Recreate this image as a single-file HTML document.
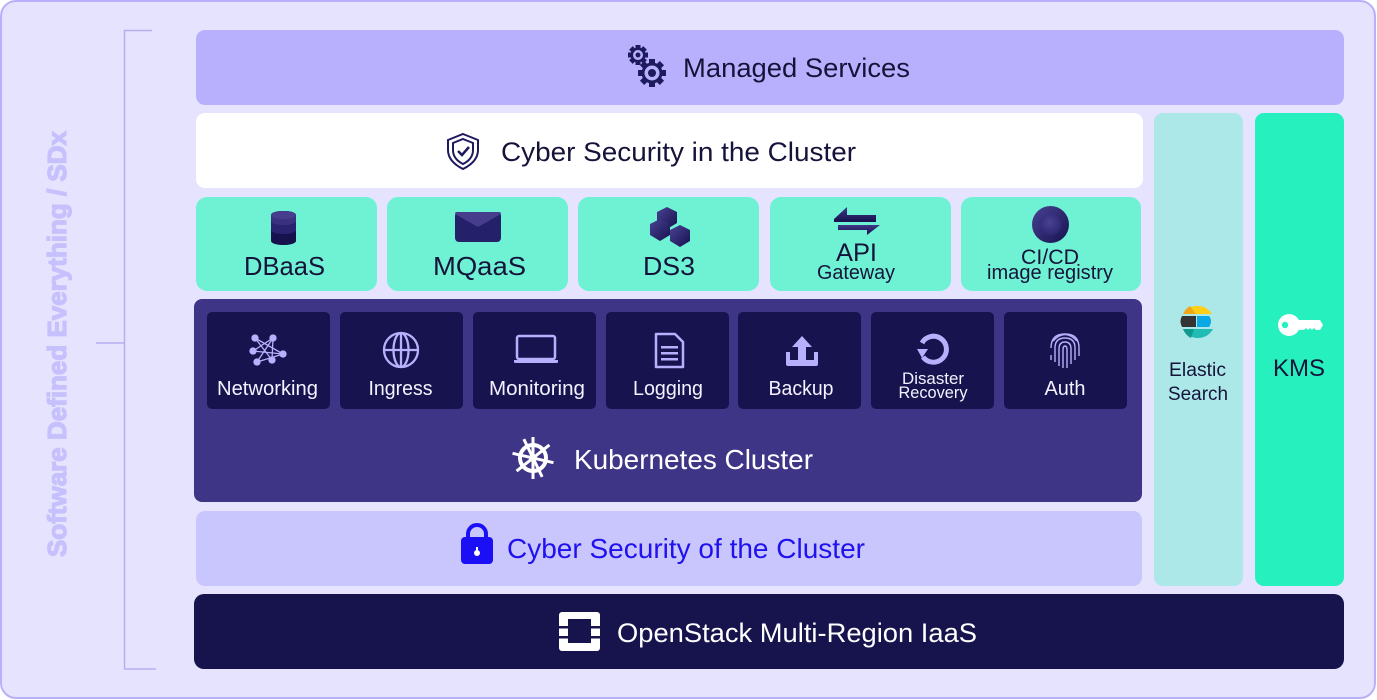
<!DOCTYPE html>
<html><head><meta charset="utf-8"><style>
html,body{margin:0;padding:0;background:#fff;}
svg{display:block;}
text{font-family:"Liberation Sans",sans-serif;}
</style></head><body>
<svg width="1377" height="700" viewBox="0 0 1377 700" xmlns="http://www.w3.org/2000/svg">
<defs>
<linearGradient id="nv" x1="0" y1="0" x2="1" y2="1"><stop offset="0" stop-color="#4a4294"/><stop offset="1" stop-color="#16124f"/></linearGradient>
<linearGradient id="nv2" x1="0" y1="0" x2="0" y2="1"><stop offset="0" stop-color="#3f3788"/><stop offset="1" stop-color="#15124d"/></linearGradient>
<radialGradient id="cin" cx="0.45" cy="0.4" r="0.6"><stop offset="0" stop-color="#4a4294"/><stop offset="1" stop-color="#2c2672"/></radialGradient>
</defs>
<rect x="1" y="1" width="1374" height="697" rx="15" fill="#e6e3fe" stroke="#b8b0fb" stroke-width="2"/>
<!-- bracket -->
<g stroke="#b5aef0" stroke-width="1.5" fill="none">
<polyline points="152,30.5 124.5,30.5 124.5,669 156,669"/>
<line x1="96" y1="343" x2="124.5" y2="343"/>
</g>
<text x="0" y="0" transform="translate(66,344) rotate(-90)" text-anchor="middle" font-size="26" style="font-weight:700" fill="#c6c0fc" stroke="#c6c0fc" stroke-width="1.2" textLength="426" lengthAdjust="spacingAndGlyphs">Software Defined Everything / SDx</text>

<!-- Managed Services -->
<rect x="196" y="30" width="1148" height="75" rx="9" fill="#b8b0fd"/>
<g fill="#1e1a5e">
<g transform="translate(638,55)">
<circle r="7.5"/>
<g><rect x="-2.5" y="-10" width="5" height="20"/><rect x="-2.5" y="-10" width="5" height="20" transform="rotate(45)"/><rect x="-2.5" y="-10" width="5" height="20" transform="rotate(90)"/><rect x="-2.5" y="-10" width="5" height="20" transform="rotate(135)"/></g>
<circle r="5" fill="#b8b0fd"/>
<circle r="2.5" fill="#1e1a5e"/>
</g>
<g transform="translate(652,73)">
<circle r="10.5"/>
<g><rect x="-3" y="-14" width="6" height="28"/><rect x="-3" y="-14" width="6" height="28" transform="rotate(45)"/><rect x="-3" y="-14" width="6" height="28" transform="rotate(90)"/><rect x="-3" y="-14" width="6" height="28" transform="rotate(135)"/></g>
<circle r="7.5" fill="#b8b0fd"/>
<circle r="4" fill="#1e1a5e"/>
</g>
</g>
<text x="683" y="77" font-size="27" fill="#16133a" textLength="227" lengthAdjust="spacingAndGlyphs">Managed Services</text>

<!-- Cyber Security in the Cluster -->
<rect x="196" y="113" width="947" height="75" rx="9" fill="#ffffff"/>
<g fill="none" stroke="#1e1a5e" stroke-width="2">
<path d="M463,134 L478,140 V150 C478,159 471,165 463,169 C455,165 448,159 448,150 V140 Z"/>
<path d="M463,139 L473,143 V150 C473,157 469,161 463,164 C457,161 453,157 453,150 V143 Z"/>
<polyline points="458,151 462,155 469,147" stroke-width="2.5"/>
</g>
<text x="501" y="161" font-size="27" fill="#16133a" textLength="355" lengthAdjust="spacingAndGlyphs">Cyber Security in the Cluster</text>

<!-- service tiles -->
<g fill="#6ef2d3">
<rect x="196" y="197" width="181" height="94" rx="11"/>
<rect x="387" y="197" width="181" height="94" rx="11"/>
<rect x="578" y="197" width="181" height="94" rx="11"/>
<rect x="770" y="197" width="181" height="94" rx="11"/>
<rect x="961" y="197" width="180" height="94" rx="11"/>
</g>
<!-- DB icon -->
<g>
<path d="M271,215 A12.5,4 0 0 1 296,215 V241 A12.5,4 0 0 1 271,241 Z" fill="#15124d"/>
<path d="M271,215 A12.5,4 0 0 1 296,215 V230 A12.5,4 0 0 1 271,230 Z" fill="#2a2470"/>
<path d="M271,215 A12.5,4 0 0 1 296,215 V221 A12.5,4 0 0 1 271,221 Z" fill="#3a3280"/>
<ellipse cx="283.5" cy="215" rx="12.5" ry="4" fill="#463e8c"/>
</g>
<text x="284.5" y="275" font-size="26" fill="#16133a" text-anchor="middle" textLength="81" lengthAdjust="spacingAndGlyphs">DBaaS</text>
<!-- envelope -->
<rect x="455" y="212" width="46" height="30" rx="4" fill="#25206a"/>
<path d="M457,212 H499 Q501,212 501,214 L478,227 L455,214 Q455,212 457,212 Z" fill="#463e8c"/>
<text x="479.5" y="275" font-size="26" fill="#16133a" text-anchor="middle" textLength="93" lengthAdjust="spacingAndGlyphs">MQaaS</text>
<!-- DS3 hexes -->
<g fill="url(#nv)">
<polygon points="667,207 677,212 677,223 667,229 657,223 657,212"/>
<polygon points="660,219 670,224 670,235 660,241 650,235 650,224"/>
<polygon points="680,225 690,230 690,241 680,247 670,241 670,230"/>
</g>
<text x="669" y="275" font-size="26" fill="#16133a" text-anchor="middle" textLength="52" lengthAdjust="spacingAndGlyphs">DS3</text>
<!-- API arrows -->
<g fill="url(#nv2)">
<polygon points="834,219 847,207 847,215 876,215 876,222 834,222"/>
<polygon points="880,225 867,235 867,230 838,230 838,225"/>
</g>
<text x="856.5" y="261" font-size="25" fill="#16133a" text-anchor="middle" textLength="41" lengthAdjust="spacingAndGlyphs">API</text>
<text x="856" y="279" font-size="20" fill="#16133a" text-anchor="middle" textLength="78" lengthAdjust="spacingAndGlyphs">Gateway</text>
<!-- CI/CD -->
<circle cx="1050.5" cy="224.5" r="18.5" fill="url(#nv)"/>
<circle cx="1050.5" cy="224.5" r="11" fill="url(#cin)"/>
<text x="1050" y="264" font-size="21" fill="#16133a" text-anchor="middle" textLength="58" lengthAdjust="spacingAndGlyphs">CI/CD</text>
<text x="1050" y="279" font-size="20" fill="#16133a" text-anchor="middle" textLength="126" lengthAdjust="spacingAndGlyphs">image registry</text>

<!-- Kubernetes block -->
<rect x="194" y="299" width="948" height="203" rx="8" fill="#3e3587"/>
<g fill="#16134e">
<rect x="207" y="312" width="123" height="97" rx="5"/>
<rect x="340" y="312" width="123" height="97" rx="5"/>
<rect x="473" y="312" width="123" height="97" rx="5"/>
<rect x="606" y="312" width="123" height="97" rx="5"/>
<rect x="738" y="312" width="123" height="97" rx="5"/>
<rect x="871" y="312" width="123" height="97" rx="5"/>
<rect x="1004" y="312" width="123" height="97" rx="5"/>
</g>
<!-- networking icon -->
<g stroke="#b8b0fc" stroke-width="1.3" fill="#b8b0fc">
<line x1="255" y1="338" x2="272" y2="360"/>
<line x1="273" y1="338" x2="257" y2="362"/>
<line x1="255" y1="338" x2="283" y2="354"/>
<line x1="273" y1="338" x2="253" y2="351"/>
<line x1="253" y1="351" x2="283" y2="354"/>
<line x1="257" y1="362" x2="283" y2="354"/>
<line x1="273" y1="338" x2="272" y2="360"/>
<circle cx="255" cy="338" r="3"/><circle cx="273" cy="338" r="3"/><circle cx="253" cy="351" r="3"/><circle cx="283" cy="354" r="3"/><circle cx="257" cy="362" r="3"/><circle cx="272" cy="360" r="3"/>
</g>
<!-- globe -->
<g stroke="#b8b0fc" stroke-width="2.3" fill="none">
<circle cx="401" cy="350" r="17"/>
<ellipse cx="401" cy="350" rx="7.5" ry="17"/>
<line x1="384" y1="350" x2="418" y2="350"/>
<line x1="401" y1="333" x2="401" y2="367"/>
</g>
<!-- laptop -->
<rect x="517" y="336" width="38" height="23" rx="2" fill="none" stroke="#b8b0fc" stroke-width="2.5"/>
<path d="M514,360 H558 V362 Q558,363 556,363 H516 Q514,363 514,362 Z" fill="#b8b0fc"/>
<!-- doc -->
<path d="M656,334 H675 L683,342 V367 H656 Z" fill="none" stroke="#b8b0fc" stroke-width="2.5" stroke-linejoin="round"/>
<g fill="#b8b0fc"><rect x="661" y="346" width="17" height="2.5"/><rect x="661" y="352" width="17" height="2.5"/><rect x="661" y="358" width="17" height="2.5"/></g>
<!-- backup -->
<g fill="#b8b0fc">
<polygon points="802,336 812,347 806,347 806,360 798,360 798,347 792,347"/>
<path d="M786,352 h4 v8 h24 v-8 h4 v12 q0,2 -2,2 h-28 q-2,0 -2,-2 Z"/>
</g>
<!-- disaster -->
<path d="M922,343 A13,13 0 1 1 923,357" fill="none" stroke="#b8b0fc" stroke-width="5"/>
<polygon points="917,349 928,349 922,358" fill="#b8b0fc"/>
<!-- fingerprint -->
<g fill="none" stroke="#b8b0fc" stroke-width="1.4">
<path d="M1053,341 Q1065,328 1077,341"/>
<path d="M1051,348 Q1051,334 1065,334 Q1079,334 1079,348 V356"/>
<path d="M1055,362 Q1055,352 1055,348 Q1055,338 1065,338 Q1075,338 1075,348 V360"/>
<path d="M1059,366 Q1059,356 1059,349 Q1059,342 1065,342 Q1071,342 1071,349 V364"/>
<path d="M1063,368 Q1063,358 1063,350 Q1063,346 1065,346 Q1067,346 1067,350 V368"/>
<path d="M1051,355 V360"/>
</g>
<g font-size="20" fill="#f4f2ff" text-anchor="middle">
<text x="267.5" y="395" textLength="101" lengthAdjust="spacingAndGlyphs">Networking</text>
<text x="400.5" y="395" textLength="64" lengthAdjust="spacingAndGlyphs">Ingress</text>
<text x="537" y="395" textLength="96" lengthAdjust="spacingAndGlyphs">Monitoring</text>
<text x="668" y="395" textLength="70" lengthAdjust="spacingAndGlyphs">Logging</text>
<text x="801" y="395" textLength="65" lengthAdjust="spacingAndGlyphs">Backup</text>
<text x="1065" y="395" textLength="41" lengthAdjust="spacingAndGlyphs">Auth</text>
</g>
<g font-size="16.5" fill="#f4f2ff" text-anchor="middle">
<text x="933" y="384" textLength="62" lengthAdjust="spacingAndGlyphs">Disaster</text>
<text x="933" y="398" textLength="69" lengthAdjust="spacingAndGlyphs">Recovery</text>
</g>
<!-- helm -->
<g transform="translate(533,458)" stroke="#ffffff" fill="none">
<circle r="13" stroke-width="4"/>
<g stroke-width="3">
<line x1="0" y1="-21" x2="0" y2="21"/>
<line x1="0" y1="-21" x2="0" y2="21" transform="rotate(51.4)"/>
<line x1="0" y1="-21" x2="0" y2="21" transform="rotate(102.8)"/>
<line x1="0" y1="-21" x2="0" y2="21" transform="rotate(154.2)"/>
</g>
<circle r="4" fill="#ffffff" stroke="none"/>
</g>
<text x="574" y="469" font-size="28" fill="#ffffff" textLength="239" lengthAdjust="spacingAndGlyphs">Kubernetes Cluster</text>

<!-- Cyber Security of the Cluster -->
<rect x="196" y="511" width="946" height="75" rx="9" fill="#c9c5fd"/>
<path d="M468,538 V534 A9,9 0 0 1 486,534 V538" fill="none" stroke="#1a0ff5" stroke-width="4"/>
<rect x="461" y="537" width="32" height="27" rx="4" fill="#1a0ff5"/>
<circle cx="477" cy="553" r="3" fill="#ffffff"/>
<rect x="476" y="547" width="2" height="5" fill="#ffffff"/>
<text x="507" y="558" font-size="28" fill="#1f12ee" textLength="358" lengthAdjust="spacingAndGlyphs">Cyber Security of the Cluster</text>

<!-- Elastic / KMS -->
<rect x="1154" y="113" width="89" height="473" rx="9" fill="#ade8e8"/>
<rect x="1255" y="113" width="89" height="473" rx="9" fill="#26f0be"/>
<g>
<path d="M1183,314 A17,17 0 0 1 1212,314 Z" fill="#fdd017"/>
<path d="M1183,314 A17,17 0 0 1 1190,306 L1196,314 Z" fill="#f0a818"/>
<path d="M1182,316 H1196 V327 H1182 Q1179,321 1182,316 Z" fill="#343434"/>
<path d="M1197,316 H1209 Q1213,321 1209,327 H1197 Z" fill="#0aa9e6"/>
<path d="M1183,329 H1213 A17,17 0 0 1 1183,329 Z" fill="#21bcb3"/>
<path d="M1183,329 H1194 L1191,338 A17,17 0 0 1 1183,329 Z" fill="#119a8f"/>
</g>
<text x="1197.5" y="376" font-size="19" fill="#16133a" text-anchor="middle" textLength="57" lengthAdjust="spacingAndGlyphs">Elastic</text>
<text x="1198" y="400" font-size="19" fill="#16133a" text-anchor="middle" textLength="60" lengthAdjust="spacingAndGlyphs">Search</text>
<g fill="#ffffff">
<circle cx="1289" cy="325" r="11"/>
<path d="M1296,320 H1320 L1323,325 L1320,330 H1316 L1314,328 L1312,330 L1310,328 L1308,330 L1306,328 L1304,330 H1296 Z"/>
</g>
<circle cx="1285" cy="325" r="3.2" fill="#26f0be"/>
<text x="1299" y="376" font-size="24" fill="#16133a" text-anchor="middle" textLength="52" lengthAdjust="spacingAndGlyphs">KMS</text>

<!-- OpenStack -->
<rect x="194" y="594" width="1150" height="75" rx="10" fill="#16134d"/>
<rect x="559" y="612" width="41" height="39" rx="3" fill="#ffffff"/>
<rect x="568" y="619" width="23" height="24" fill="#16134d"/>
<g fill="#16134d">
<rect x="559" y="626" width="9" height="2.5"/><rect x="559" y="636" width="9" height="2.5"/>
<rect x="591" y="626" width="9" height="2.5"/><rect x="591" y="636" width="9" height="2.5"/>
</g>
<text x="617" y="642" font-size="27" fill="#ffffff" textLength="360" lengthAdjust="spacingAndGlyphs">OpenStack Multi-Region IaaS</text>
</svg>
</body></html>
